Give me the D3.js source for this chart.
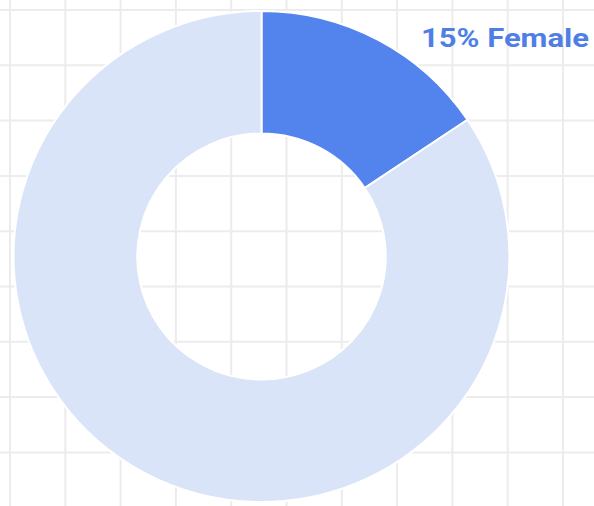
<!DOCTYPE html>
<html>
<head>
<meta charset="utf-8">
<script src="https://cdn.jsdelivr.net/npm/d3@7"></script>
<style>
  html, body { margin: 0; padding: 0; background: #ffffff; overflow: hidden; }
  .label { font-family: Roboto, "Open Sans", sans-serif; font-weight: 700; }
</style>
</head>
<body>
<div id="chart"></div>
<script>
const width = 594;
const height = 506;

// Share of each group
const groups = ["Female", "Male"];
const shares = [15.6, 84.4];
const labelText = "15% Female";

// Background grid steps
const gridSteps = d3.range(0, 11);

const svg = d3.select("#chart")
  .append("svg")
  .attr("width", width)
  .attr("height", height);

// Grid
const gridScale = d3.scaleLinear()
  .domain([0, 10])
  .range([10, 563]);

svg.selectAll(".vline")
  .data(gridSteps)
  .enter()
  .append("line")
  .attr("class", "vline")
  .attr("x1", function(d) { return gridScale(d); })
  .attr("x2", function(d) { return gridScale(d); })
  .attr("y1", 0)
  .attr("y2", height)
  .attr("stroke", "#ececec")
  .attr("stroke-width", 2);

svg.selectAll(".hline")
  .data(gridSteps)
  .enter()
  .append("line")
  .attr("class", "hline")
  .attr("x1", 0)
  .attr("x2", width)
  .attr("y1", function(d) { return gridScale(d); })
  .attr("y2", function(d) { return gridScale(d); })
  .attr("stroke", "#ececec")
  .attr("stroke-width", 2);

// Donut
const color = d3.scaleOrdinal()
  .domain(groups)
  .range(["#5383ec", "#dae4f8"]);

const pie = d3.pie()
  .sort(null)
  .value(function(d) { return d.value; });

const arc = d3.arc()
  .innerRadius(123)
  .outerRadius(245.5);

const pieData = pie(groups.map(function(g, i) {
  return { group: g, value: shares[i] };
}));

const donut = svg.append("g")
  .attr("transform", "translate(261.5,256.5) scale(1.01,1)");

donut.selectAll("path")
  .data(pieData)
  .enter()
  .append("path")
  .attr("d", arc)
  .attr("fill", function(d) { return color(d.data.group); })
  .attr("stroke", "#ffffff")
  .attr("stroke-width", 2);

// Label
svg.append("text")
  .attr("class", "label")
  .attr("x", 589)
  .attr("y", 47)
  .attr("text-anchor", "end")
  .attr("font-size", "26px")
  .attr("textLength", 168)
  .attr("lengthAdjust", "spacingAndGlyphs")
  .attr("fill", "#4f7fe6")
  .text(labelText);
</script>
</body>
</html>
